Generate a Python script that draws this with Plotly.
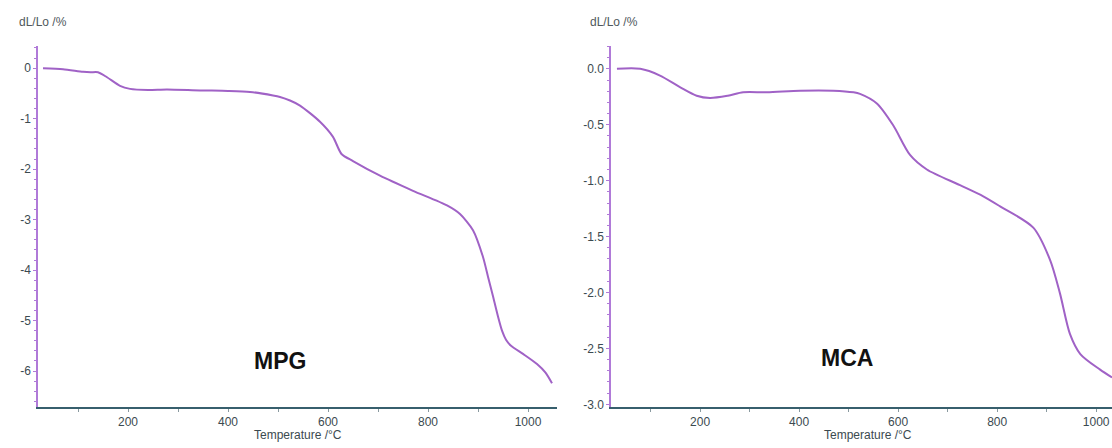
import plotly.graph_objects as go

# Dilatometry curves: relative length change vs temperature
mpg_temp = [30, 70, 110, 125, 140, 158, 184, 204, 240, 278, 344, 400, 444, 490, 504, 524, 544,
            584, 610, 627, 650, 704, 770, 838, 864, 890, 910, 920, 930, 940, 948, 956, 966,
            990, 1018, 1035, 1048]
mpg_dl = [0, -0.02, -0.07, -0.08, -0.08, -0.18, -0.35, -0.41, -0.43, -0.42, -0.44, -0.45,
          -0.47, -0.54, -0.57, -0.64, -0.74, -1.06, -1.36, -1.70, -1.84, -2.13, -2.43, -2.72,
          -2.89, -3.21, -3.74, -4.13, -4.52, -4.92, -5.20, -5.38, -5.50, -5.66, -5.86, -6.03,
          -6.24]

mca_temp = [32, 79, 119, 160, 193, 220, 256, 287, 335, 402, 469, 510, 523, 557, 590, 624,
            658, 725, 772, 806, 873, 907, 927, 947, 968, 1008, 1032]
mca_dl = [0, 0, -0.06, -0.165, -0.24, -0.26, -0.24, -0.21, -0.21, -0.195, -0.195, -0.21,
          -0.224, -0.31, -0.505, -0.77, -0.90, -1.04, -1.14, -1.23, -1.42, -1.71, -2.01,
          -2.37, -2.55, -2.69, -2.76]

mpg_yticks = [0, -1, -2, -3, -4, -5, -6]
mca_yticks = [0.0, -0.5, -1.0, -1.5, -2.0, -2.5, -3.0]
x_ticks = [200, 400, 600, 800, 1000]

W, H = 1112, 448
CURVE = "#a062c6"
YLINE = "#b07ad8"
XLINE = "#375f6d"
TXT = "#3b4a50"
FONT = "Liberation Sans Narrow, Arial Narrow, Liberation Sans, Arial, sans-serif"

fig = go.Figure()
fig.add_trace(go.Scatter(x=mpg_temp, y=mpg_dl, mode="lines", xaxis="x", yaxis="y",
                         line=dict(color=CURVE, width=2, shape="spline", smoothing=0.7),
                         showlegend=False))
fig.add_trace(go.Scatter(x=mca_temp, y=mca_dl, mode="lines", xaxis="x2", yaxis="y2",
                         line=dict(color=CURVE, width=2, shape="spline", smoothing=0.8),
                         showlegend=False))

ydom = [1 - 411.5 / H, 1 - 47 / H]


def xax(domain, rng, anchor):
    return dict(domain=domain, range=rng, anchor=anchor, showgrid=False, zeroline=False,
                showline=True, linecolor=XLINE, linewidth=1.5,
                tickmode="array", tickvals=x_ticks, ticktext=[str(v) for v in x_ticks],
                ticks="outside", ticklen=3, tickcolor="#8a9aa0",
                minor=dict(dtick=100, tick0=0, ticks="outside", ticklen=3, tickcolor="#8a9aa0"),
                tickfont=dict(family=FONT, size=12, color=TXT))


def yax(rng, anchor, vals, text, minor_step):
    return dict(domain=ydom, range=rng, anchor=anchor, showgrid=False, zeroline=False,
                showline=True, linecolor=YLINE, linewidth=1.5,
                tickmode="array", tickvals=vals, ticktext=text,
                ticks="outside", ticklen=3, tickcolor=YLINE,
                minor=dict(dtick=minor_step, tick0=0, ticks="outside", ticklen=2, tickcolor=YLINE),
                tickfont=dict(family=FONT, size=12, color=TXT))


fig.update_layout(
    width=W, height=H, margin=dict(l=0, r=0, t=0, b=0),
    paper_bgcolor="white", plot_bgcolor="white",
    xaxis=xax([38 / W, 557 / W], [20, 1058], "y"),
    yaxis=yax([-6.71, 0.43], "x", mpg_yticks, [str(v) for v in mpg_yticks], 0.2),
    xaxis2=xax([611 / W, 1.0], [20, 1032], "y2"),
    yaxis2=yax([-3.023, 0.2], "x2", mca_yticks, [f"{v:.1f}" for v in mca_yticks], 0.1),
)

annots = [
    dict(text="dL/Lo /%", x=17, y=22, xanchor="left", size=12, color="#50595d", bold=False),
    dict(text="dL/Lo /%", x=588, y=22, xanchor="left", size=12, color="#50595d", bold=False),
    dict(text="Temperature /°C", x=297.5, y=440, xanchor="center", size=12, color=TXT, bold=False),
    dict(text="Temperature /°C", x=867.5, y=440, xanchor="center", size=12, color=TXT, bold=False),
    dict(text="MPG", x=280, y=365, xanchor="center", size=23, color="#111111", bold=True),
    dict(text="MCA", x=846.5, y=362, xanchor="center", size=23, color="#111111", bold=True),
]
for a in annots:
    fam = "Liberation Sans, Arial, sans-serif" if a["bold"] else FONT
    fig.add_annotation(text=f"<b>{a['text']}</b>" if a["bold"] else a["text"],
                       xref="paper", yref="paper", x=a["x"] / W, y=1 - a["y"] / H,
                       xanchor=a["xanchor"], yanchor="middle", showarrow=False,
                       font=dict(family=fam, size=a["size"], color=a["color"]))

fig.write_html("out.html")
